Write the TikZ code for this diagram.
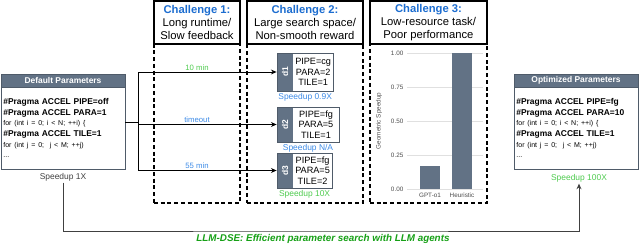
\documentclass[tikz,border=0pt]{standalone}
\usepackage{fontspec}
\setmainfont{Liberation Sans}
\usepackage{xcolor}
\definecolor{slate}{HTML}{627285}
\definecolor{slatedk}{HTML}{4F5B69}
\definecolor{chblue}{HTML}{1C6DD0}
\definecolor{labblue}{HTML}{3C8AE6}
\definecolor{labgreen}{HTML}{4FCB4F}
\definecolor{dsegreen}{HTML}{16A016}
\definecolor{gridgray}{gray}{0.88}
\newcommand{\codesm}{\fontsize{5}{7.6}\selectfont}
\usetikzlibrary{arrows.meta,positioning,calc,fit}

\begin{document}
\begin{tikzpicture}[
  x=0.025cm, y=-0.025cm,
  font=\fontsize{6}{7.6}\selectfont,
  chal/.style={
    rectangle, draw=black, fill=white,
    minimum width=#1, minimum height=1.075cm,
    inner sep=1pt, align=center,
    line width=1.1pt, font=\fontsize{8}{9.3}\selectfont
  },
  zone/.style={
    rectangle, draw=black, line width=1.1pt,
    dash pattern=on 2.8pt off 2pt,
    minimum width=#1, minimum height=3.975cm
  },
  head/.style={
    rectangle, draw=slatedk, fill=slate, text=white,
    minimum width=3.1cm, minimum height=0.325cm,
    inner sep=0pt, outer sep=0pt,
    font=\fontsize{6}{7}\selectfont\bfseries
  },
  code/.style={
    rectangle, draw=slatedk, fill=white,
    text width=2.98cm, minimum height=2.05cm,
    inner xsep=0.06cm, outer sep=0pt, align=left
  },
  tab/.style={
    rectangle, fill=slate, text=white,
    minimum width=0.4cm, minimum height=#1,
    inner sep=0pt, outer sep=0pt,
    font=\fontsize{6}{7}\selectfont\bfseries
  },
  parm/.style={
    rectangle, fill=white, minimum height=#1,
    inner xsep=1.6pt, inner ysep=0pt, outer sep=0pt,
    align=center, font=\fontsize{6.5}{7.4}\selectfont
  },
  lab/.style={font=\fontsize{5.5}{6}\selectfont, inner sep=1pt},
  spd/.style={font=\fontsize{6}{7}\selectfont, inner sep=1pt},
  tick/.style={font=\fontsize{4.5}{5}\selectfont, text=black!70, inner sep=1pt},
  arr/.style={-{Stealth[length=4pt,width=3.5pt]}, line width=0.6pt}
]
\useasboundingbox (0,0) rectangle (640,250);

% challenge columns
\node[zone=2.15cm] (z1) at (197,123.5) {};
\node[zone=2.9cm] (z2) at (305,123.5) {};
\node[zone=2.925cm] (z3) at (428.5,123.5) {};

\node[chal=2.15cm] (ch1) at (197,22.5) {\textcolor{chblue}{\bfseries Challenge 1:}\\Long runtime/\\Slow feedback};
\node[chal=2.9cm] (ch2) at (305,22.5) {\textcolor{chblue}{\bfseries Challenge 2:}\\Large search space/\\Non-smooth reward};
\node[chal=2.925cm] (ch3) at (428.5,22.5) {\textcolor{chblue}{\bfseries Challenge 3:}\\Low-resource task/\\Poor performance};

% default and optimized parameters
\node[head] (hd0) at (63,80.5) {Default Parameters};
\node[code, below=0pt of hd0] (cd0) {\textbf{\#Pragma ACCEL PIPE=off}\\
\textbf{\#Pragma ACCEL PARA=1}\\
{\codesm for (int i = 0; i < N; ++i) \{}\\
\textbf{\#Pragma ACCEL TILE=1}\\
{\codesm for (int j = 0;~ j < M; ++j)}\\
{\codesm ...}};
\node[spd, text=black!75] (s0) at (63,177) {Speedup 1X};

\node[head] (hd4) at (576,80.5) {Optimized Parameters};
\node[code, below=0pt of hd4] (cd4) {\textbf{\#Pragma ACCEL PIPE=fg}\\
\textbf{\#Pragma ACCEL PARA=10}\\
{\codesm for (int i = 0; i < N; ++i) \{}\\
\textbf{\#Pragma ACCEL TILE=1}\\
{\codesm for (int j = 0;~ j < M; ++j)}\\
{\codesm ...}};
\node[spd, text=labgreen] (s4) at (579,178) {Speedup 100X};

% candidate designs
\node[tab=0.95cm, anchor=west] (t1) at (277,72) {\rotatebox{90}{d1}};
\node[parm=0.95cm, right=0pt of t1] (p1) {PIPE=cg\\PARA=2\\TILE=1};
\node[fit=(t1)(p1), inner sep=0pt, draw=slatedk, line width=0.6pt] (d1) {};
\node[spd, text=labblue, below=0pt of d1] (sp1) {Speedup 0.9X};

\node[tab=0.875cm, anchor=west] (t2) at (277,124.5) {\rotatebox{90}{d2}};
\node[parm=0.875cm, right=0pt of t2, minimum width=1.15cm] (p2) {PIPE=fg\\PARA=5\\TILE=1};
\node[fit=(t2)(p2), inner sep=0pt, draw=slatedk, line width=0.6pt] (d2) {};
\node[spd, text=labblue, below=0pt of d2] (sp2) {Speedup N/A};

\node[tab=0.875cm, anchor=west] (t3) at (277,170.5) {\rotatebox{90}{d3}};
\node[parm=0.875cm, right=0pt of t3] (p3) {PIPE=fg\\PARA=5\\TILE=2};
\node[fit=(t3)(p3), inner sep=0pt, draw=slatedk, line width=0.6pt] (d3) {};
\node[spd, text=labgreen, below=0pt of d3] (sp3) {Speedup 10X};

% evaluation arrows
\coordinate (fork) at (138,122);
\draw[line width=0.6pt] (cd0.east |- fork) -- (fork);
\draw[line width=0.6pt] (fork |- d1.west) -- (fork |- d3.west);
\foreach \d in {d1,d2,d3} {
  \draw[arr] (fork |- \d.west) -- (\d.west);
}
\node[lab, text=labgreen, anchor=south] (l1) at (z1 |- d1.west) {10 min};
\node[lab, text=labblue, anchor=south] (l2) at (z1 |- d2.west) {timeout};
\node[lab, text=labblue, anchor=south] (l3) at (z1 |- d3.west) {55 min};

% bar chart
\foreach \v/\t [count=\k] in {0/0.00,0.25/0.25,0.5/0.50,0.75/0.75,1/1.00} {
  \draw[gridgray, line width=0.4pt] (407,{189-136*\v}) -- (483,{189-136*\v});
  \node[tick, anchor=east] (tk\k) at (405,{189-136*\v}) {\t};
}
\fill[slate] (420,189) rectangle (440,166);
\fill[slate] (452,189) rectangle (472,53);
\node[tick] (b1) at (430,195.5) {GPT-o1};
\node[tick] (b2) at (462,195.5) {Heuristic};
\node[tick, rotate=90] (yl) at (379,121) {Geometric Speedup};

% overall loop
\coordinate (bot) at (320,231);
\draw[arr, draw=black!75] (s0.south) |- (bot) -| (s4.south);
\node[font=\fontsize{7}{8}\selectfont\bfseries\itshape, text=dsegreen] (tag) at (323,239) {LLM-DSE: Efficient parameter search with LLM agents};
\end{tikzpicture}
\end{document}
